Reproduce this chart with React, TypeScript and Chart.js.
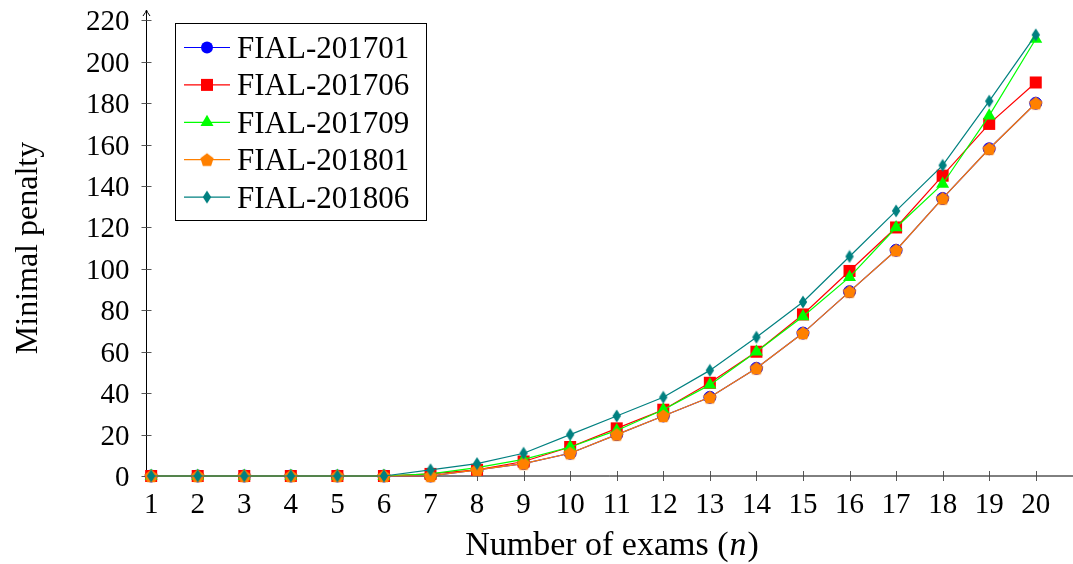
import React, { useEffect, useRef } from 'react';
import { Chart, registerables } from 'chart.js';

Chart.register(...registerables);

// ---- data ----
const examCounts = [1, 2, 3, 4, 5, 6, 7, 8, 9, 10, 11, 12, 13, 14, 15, 16, 17, 18, 19, 20];
const fial201701 = [0, 0, 0, 0, 0, 0, 0, 3, 6, 11, 20, 29, 38, 52, 69, 89, 109, 134, 158, 180];
const fial201706 = [0, 0, 0, 0, 0, 0, 1, 3, 7, 14, 23, 32, 45, 60, 78, 99, 120, 145, 170, 190];
const fial201709 = [0, 0, 0, 0, 0, 0, 1, 4, 8, 14, 22, 32, 44, 60, 77, 96, 120, 141, 174, 211];
const fial201801 = [0, 0, 0, 0, 0, 0, 0, 3, 6, 11, 20, 29, 38, 52, 69, 89, 109, 134, 158, 180];
const fial201806 = [0, 0, 0, 0, 0, 0, 3, 6, 11, 20, 29, 38, 51, 67, 84, 106, 128, 150, 181, 213];
const seriesLabels = ['FIAL-201701', 'FIAL-201706', 'FIAL-201709', 'FIAL-201801', 'FIAL-201806'];
const yTickValues = [0, 20, 40, 60, 80, 100, 120, 140, 160, 180, 200, 220];
const xTickValues = [1, 2, 3, 4, 5, 6, 7, 8, 9, 10, 11, 12, 13, 14, 15, 16, 17, 18, 19, 20];
const xTitle = 'Number of exams (';
const xTitleVar = 'n';
const yTitle = 'Minimal penalty';

const colors = ['#0000ff', '#ff0000', '#00ff00', '#ff8000', '#008080'];
const FONT = "'Liberation Serif', 'Times New Roman', serif";

function makePentagon(color: string): HTMLCanvasElement {
  const c = document.createElement('canvas');
  c.width = 16; c.height = 16;
  const g = c.getContext('2d')!;
  g.beginPath();
  for (let i = 0; i < 5; i++) {
    const a = -Math.PI / 2 + (i * 2 * Math.PI) / 5;
    const px = 8 + 7 * Math.cos(a);
    const py = 8.6 + 7 * Math.sin(a);
    if (i === 0) g.moveTo(px, py); else g.lineTo(px, py);
  }
  g.closePath();
  g.fillStyle = color;
  g.fill();
  return c;
}

function makeDiamond(color: string): HTMLCanvasElement {
  const c = document.createElement('canvas');
  c.width = 10; c.height = 14;
  const g = c.getContext('2d')!;
  g.beginPath();
  g.moveTo(5, 0.5);
  g.lineTo(9.2, 7);
  g.lineTo(5, 13.5);
  g.lineTo(0.8, 7);
  g.closePath();
  g.fillStyle = color;
  g.fill();
  return c;
}

export default function App() {
  const ref = useRef<HTMLCanvasElement | null>(null);

  useEffect(() => {
    document.body.style.margin = '0';
    const canvas = ref.current;
    if (!canvas) return;
    const pentagon = makePentagon(colors[3]);
    const diamond = makeDiamond(colors[4]);
    const seriesValues = [fial201701, fial201706, fial201709, fial201801, fial201806];
    const styles: any[] = ['circle', 'rect', 'triangle', pentagon, diamond];
    const radii = [6, 8.5, 7.5, 7, 7];

    const datasets = seriesValues.map((vals, i) => ({
      label: seriesLabels[i],
      data: examCounts.map((x, j) => ({ x, y: vals[j] })),
      borderColor: colors[i],
      backgroundColor: colors[i],
      pointBackgroundColor: colors[i],
      pointBorderColor: colors[i],
      pointBorderWidth: i === 0 ? 1 : 0,
      pointStyle: styles[i],
      pointRadius: radii[i],
      borderWidth: 1.2,
      tension: 0,
      order: 5 - i,
      clip: false as any,
    }));

    const drawMarker = (ctx: CanvasRenderingContext2D, i: number, x: number, y: number) => {
      ctx.fillStyle = colors[i];
      ctx.beginPath();
      if (i === 0) {
        ctx.arc(x, y, 6, 0, Math.PI * 2);
        ctx.fill();
      } else if (i === 1) {
        ctx.fillRect(x - 6, y - 6, 12, 12);
      } else if (i === 2) {
        ctx.moveTo(x, y - 7.5);
        ctx.lineTo(x + 6.5, y + 3.75);
        ctx.lineTo(x - 6.5, y + 3.75);
        ctx.closePath();
        ctx.fill();
      } else if (i === 3) {
        ctx.drawImage(pentagon, x - 8, y - 8);
      } else {
        ctx.drawImage(diamond, x - 5, y - 7);
      }
    };

    const axesPlugin = {
      id: 'pgfAxes',
      beforeDatasetsDraw(chart: any) {
        const ctx = chart.ctx as CanvasRenderingContext2D;
        const xs = chart.scales.x;
        const ys = chart.scales.y;
        const area = chart.chartArea;
        const y0 = ys.getPixelForValue(0);
        ctx.save();
        ctx.strokeStyle = '#000';
        ctx.lineWidth = 1;
        // x axis line
        ctx.beginPath();
        ctx.moveTo(area.left, y0);
        ctx.lineTo(area.right, y0);
        ctx.stroke();
        // y axis line with arrow
        ctx.beginPath();
        ctx.moveTo(area.left, y0);
        ctx.lineTo(area.left, area.top + 1);
        ctx.stroke();
        ctx.beginPath();
        ctx.moveTo(area.left - 3.5, area.top + 6);
        ctx.quadraticCurveTo(area.left - 0.5, area.top + 2, area.left, area.top);
        ctx.quadraticCurveTo(area.left + 0.5, area.top + 2, area.left + 3.5, area.top + 6);
        ctx.stroke();
        // ticks
        ctx.strokeStyle = '#444';
        ctx.lineWidth = 0.9;
        xTickValues.forEach((v) => {
          const px = Math.round(xs.getPixelForValue(v)) + 0.5;
          ctx.beginPath();
          ctx.moveTo(px, y0 - 5);
          ctx.lineTo(px, y0 + 5);
          ctx.stroke();
        });
        yTickValues.forEach((v) => {
          const py = Math.round(ys.getPixelForValue(v)) + 0.5;
          ctx.beginPath();
          ctx.moveTo(area.left - 5, py);
          ctx.lineTo(area.left + 5, py);
          ctx.stroke();
        });
        // tick labels
        ctx.fillStyle = '#000';
        ctx.font = `29px ${FONT}`;
        ctx.textBaseline = 'alphabetic';
        ctx.textAlign = 'center';
        xTickValues.forEach((v) => {
          ctx.fillText(String(v), xs.getPixelForValue(v), y0 + 37);
        });
        ctx.textAlign = 'right';
        yTickValues.forEach((v) => {
          ctx.fillText(String(v), area.left - 17, ys.getPixelForValue(v) + 10);
        });
        // x title
        const tf = 34;
        ctx.font = `${tf}px ${FONT}`;
        const w1 = ctx.measureText(xTitle).width;
        ctx.font = `italic ${tf}px ${FONT}`;
        const w2 = ctx.measureText(xTitleVar).width;
        ctx.font = `${tf}px ${FONT}`;
        const w3 = ctx.measureText(')').width;
        const total = w1 + w2 + w3 + 2;
        let sx = 612 - total / 2;
        ctx.textAlign = 'left';
        ctx.fillText(xTitle, sx, 555);
        sx += w1 + 1;
        ctx.font = `italic ${tf}px ${FONT}`;
        ctx.fillText(xTitleVar, sx, 555);
        sx += w2 + 1;
        ctx.font = `${tf}px ${FONT}`;
        ctx.fillText(')', sx, 555);
        // y title
        ctx.save();
        ctx.font = `32px ${FONT}`;
        ctx.translate(37, 248);
        ctx.rotate(-Math.PI / 2);
        ctx.textAlign = 'center';
        ctx.fillText(yTitle, 0, 0);
        ctx.restore();
        ctx.restore();
      },
      afterDraw(chart: any) {
        const ctx = chart.ctx as CanvasRenderingContext2D;
        ctx.save();
        // legend box
        const bx = 175.5, by = 23.5, bw = 251, bh = 197;
        ctx.fillStyle = '#fff';
        ctx.fillRect(bx, by, bw, bh);
        ctx.strokeStyle = '#000';
        ctx.lineWidth = 1;
        ctx.strokeRect(bx, by, bw, bh);
        ctx.font = `31px ${FONT}`;
        ctx.textAlign = 'left';
        ctx.textBaseline = 'alphabetic';
        seriesLabels.forEach((lab, i) => {
          const y = 47.5 + i * 37.4;
          ctx.strokeStyle = colors[i];
          ctx.lineWidth = 1.2;
          ctx.beginPath();
          ctx.moveTo(184, y);
          ctx.lineTo(230, y);
          ctx.stroke();
          drawMarker(ctx, i, 207, y);
          ctx.fillStyle = '#000';
          ctx.fillText(lab, 237, y + 10.5);
        });
        ctx.restore();
      },
    };

    const chart = new Chart(canvas, {
      type: 'line',
      data: { datasets },
      options: {
        animation: false,
        responsive: true,
        maintainAspectRatio: false,
        layout: { autoPadding: false, padding: { left: 146.5, right: 0, top: 10, bottom: 88 } },
        plugins: { legend: { display: false }, tooltip: { enabled: false } },
        scales: {
          x: { type: 'linear', min: 0.9, max: 20.8, display: false },
          y: { type: 'linear', min: 0, max: 225, display: false },
        },
      },
      plugins: [axesPlugin],
    } as any);
    return () => chart.destroy();
  }, []);

  return (
    <div style={{ width: 1073, height: 564, position: 'relative', background: '#fff' }}>
      <canvas ref={ref} />
    </div>
  );
}
